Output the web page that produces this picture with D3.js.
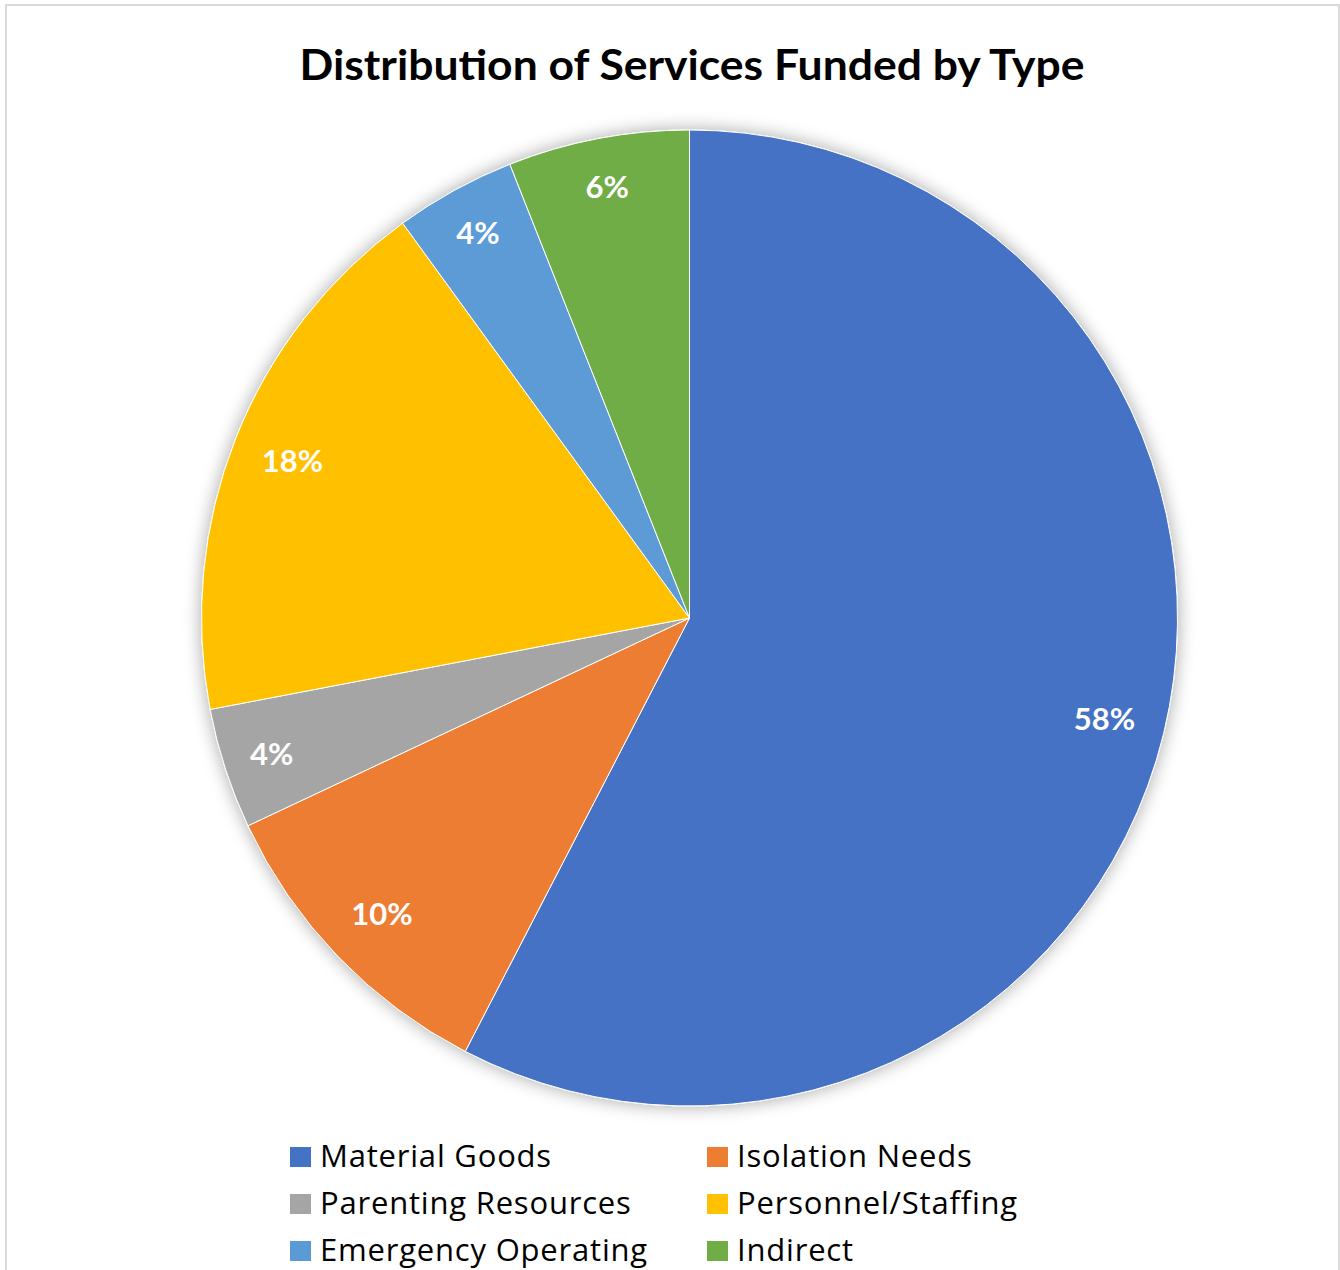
<!DOCTYPE html>
<html lang="en">
  <head>
    <meta charset="utf-8">
    <title>Distribution of Services Funded by Type</title>
    <script type="text/javascript" src="https://cdn.jsdelivr.net/npm/d3@7"></script>
    <style>
      body { margin: 0; background: #fff; }
      svg { display: block; }
    </style>
  </head>
  <body>
    <script type="text/javascript">
    // chart data (slices clockwise from 12 o'clock)
    var categories = ["Material Goods", "Isolation Needs", "Parenting Resources",
                      "Personnel/Staffing", "Emergency Operating", "Indirect"];
    var shares = [57.6, 10.4, 4.0, 18.0, 4.0, 6.0];
    var colours = ["#4472C4", "#ED7D31", "#A5A5A5", "#FFC000", "#5B9BD5", "#70AD47"];
    var title = "Distribution of Services Funded by Type";

    var w = 1340;
    var h = 1270;
    var cx = 689.5, cy = 618, radius = 488;

    var dataset = categories.map(function(c, i) {
      return { name: c, value: shares[i], colour: colours[i] };
    });

    var svg = d3.select("body")
                .append("svg")
                .attr("width", w)
                .attr("height", h);

    // soft glow behind the pie
    var defs = svg.append("defs");
    var filter = defs.append("filter")
                     .attr("id", "glow")
                     .attr("x", "-20%").attr("y", "-20%")
                     .attr("width", "140%").attr("height", "140%");
    filter.append("feGaussianBlur")
          .attr("in", "SourceAlpha")
          .attr("stdDeviation", 9)
          .attr("result", "blur");
    filter.append("feComponentTransfer")
          .append("feFuncA").attr("type", "linear").attr("slope", 0.35);
    var merge = filter.append("feMerge");
    merge.append("feMergeNode");
    merge.append("feMergeNode").attr("in", "SourceGraphic");

    // chart area border
    svg.append("rect")
       .attr("x", 6).attr("y", 5)
       .attr("width", 1333).attr("height", 1300)
       .attr("fill", "#fff")
       .attr("stroke", "#d9d9d9")
       .attr("stroke-width", 2);

    // title
    svg.append("text")
       .attr("x", 692)
       .attr("y", 80)
       .attr("text-anchor", "middle")
       .attr("font-family", "Lato, 'Open Sans', sans-serif")
       .attr("font-weight", "bold")
       .attr("font-size", 42)
       .attr("textLength", 785)
       .attr("lengthAdjust", "spacingAndGlyphs")
       .attr("fill", "#000")
       .text(title);

    var pie = d3.pie()
                .sort(null)
                .value(function(d) { return d.value; });

    var arc = d3.arc().innerRadius(0).outerRadius(radius);
    var labelArc = d3.arc().innerRadius(radius * 0.875).outerRadius(radius * 0.875);
    var smallArc = d3.arc().innerRadius(radius * 0.9).outerRadius(radius * 0.9);

    var total = d3.sum(shares);
    var arcs = pie(dataset);

    var g = svg.append("g")
               .attr("transform", "translate(" + cx + "," + cy + ")");

    g.append("g")
     .attr("filter", "url(#glow)")
     .selectAll("path")
     .data(arcs)
     .enter()
     .append("path")
     .attr("d", arc)
     .attr("fill", function(d) { return d.data.colour; })
     .attr("stroke", "#fff")
     .attr("stroke-width", 1);

    g.selectAll("text.pct")
     .data(arcs)
     .enter()
     .append("text")
     .attr("class", "pct")
     .attr("transform", function(d) {
       // narrow slices sit a little further out
       var a = d.data.value < 8 ? smallArc : labelArc;
       return "translate(" + a.centroid(d) + ")";
     })
     .attr("text-anchor", "middle")
     .attr("dy", "0.36em")
     .attr("font-family", "Lato, 'Open Sans', sans-serif")
     .attr("font-weight", "bold")
     .attr("font-size", 31)
     .attr("fill", "#fff")
     .text(function(d) { return Math.round(d.data.value / total * 100) + "%"; });

    // legend, two columns
    var legend = svg.append("g");
    var items = legend.selectAll("g")
                      .data(dataset)
                      .enter()
                      .append("g")
                      .attr("transform", function(d, i) {
                        var col = i % 2, row = Math.floor(i / 2);
                        return "translate(" + (290 + col * 417) + "," + (1147 + row * 47) + ")";
                      });
    items.append("rect")
         .attr("width", 21).attr("height", 20)
         .attr("fill", function(d) { return d.colour; });
    items.append("text")
         .attr("x", 30)
         .attr("y", 20)
         .attr("font-family", "'Open Sans', Lato, sans-serif")
         .attr("font-size", 31)
         .attr("letter-spacing", 0.8)
         .attr("fill", "#000")
         .text(function(d) { return d.name; });
    </script>
  </body>
</html>
